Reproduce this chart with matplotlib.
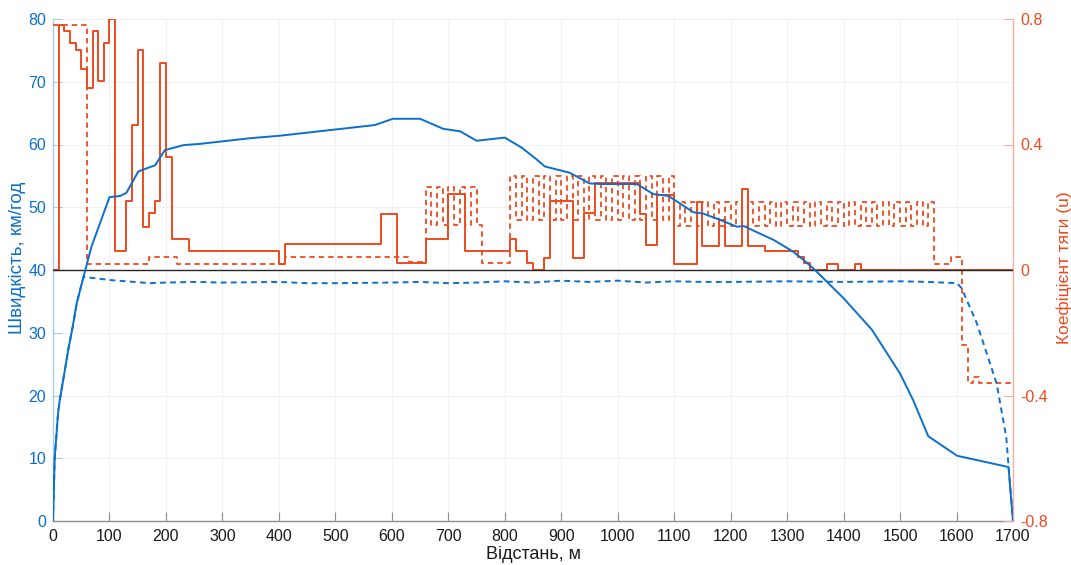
import numpy as np
import matplotlib
matplotlib.use('Agg')
import matplotlib.pyplot as plt
from matplotlib.ticker import FuncFormatter

plt.rcParams['font.family'] = ['Liberation Sans', 'DejaVu Sans']
plt.rcParams['axes.unicode_minus'] = False

# ---------------- data ----------------
# speed, solid line (km/h) vs distance (m)
speed_dist = [0, 3, 9, 12, 20, 27, 35, 42, 54, 68, 100, 119, 130, 151, 181, 198, 231, 260,
              349, 402, 570, 602, 650, 691, 721, 750, 800, 830, 854, 871, 915, 950, 969,
              1034, 1063, 1090, 1134, 1151, 1181, 1211, 1223, 1276, 1311, 1329, 1346, 1364,
              1400, 1450, 1500, 1523, 1550, 1601, 1692, 1700]
speed_kmh = [0, 10, 17.2, 19.3, 23.5, 27.3, 31, 34.7, 38.9, 43.7, 51.6, 51.8, 52.3, 55.7,
             56.7, 59.1, 59.9, 60.1, 61.0, 61.4, 63.1, 64.1, 64.1, 62.5, 62.1, 60.6, 61.1,
             59.5, 57.8, 56.5, 55.5, 53.8, 53.7, 53.7, 52.1, 51.8, 49.2, 49.0, 48.0, 46.9,
             47.0, 44.8, 42.9, 41.6, 40.3, 38.7, 35.5, 30.5, 23.5, 19.3, 13.5, 10.4, 8.6, 0]

# speed, dashed line (km/h)
speed2_dist = [0, 3, 9, 12, 20, 27, 35, 42, 54, 101, 172, 200, 250, 300, 400, 450, 500, 600,
               650, 700, 750, 800, 850, 900, 950, 1000, 1050, 1100, 1150, 1200, 1300, 1400,
               1500, 1550, 1601, 1609, 1636, 1671, 1688, 1700]
speed2_kmh = [0, 10, 17.2, 19.3, 23.5, 27.3, 31, 34.7, 38.9, 38.4, 37.9, 38.0, 38.1, 38.0,
              38.1, 37.9, 37.9, 38.0, 38.1, 37.9, 38.0, 38.2, 38.0, 38.3, 38.1, 38.3, 38.0,
              38.2, 38.1, 38.1, 38.2, 38.1, 38.2, 38.1, 37.9, 37.1, 31.5, 21.9, 13.4, 0]

# traction coefficient, solid step line: start of each step (m) and value
u_solid_start = [0, 10, 20, 30, 40, 50, 60, 70, 80, 90, 100, 110, 130, 140, 150, 160, 170,
                 180, 190, 200, 210, 240, 400, 410, 580, 610, 660, 700, 730, 810, 820, 840,
                 850, 870, 880, 920, 940, 960, 1040, 1050, 1070, 1100, 1140, 1150, 1180, 1190,
                 1220, 1230, 1260, 1320, 1330, 1340, 1370, 1390, 1420, 1430]
u_solid_val = [0, 0.78, 0.762, 0.722, 0.701, 0.64, 0.581, 0.762, 0.602, 0.722, 0.80, 0.062,
               0.22, 0.462, 0.701, 0.138, 0.181, 0.22, 0.661, 0.361, 0.099, 0.062, 0.02,
               0.083, 0.18, 0.021, 0.099, 0.242, 0.06, 0.099, 0.06, 0.021, 0.0, 0.037, 0.22,
               0.037, 0.181, 0.276, 0.18, 0.079, 0.24, 0.02, 0.218, 0.078, 0.16, 0.078, 0.258,
               0.078, 0.06, 0.043, 0.021, 0.0, 0.019, 0.0, 0.019, 0.0]

# traction coefficient, dashed step line: one value per 10 m interval (0..1700 m)
u_dashed_10m = [
    0.78, 0.78, 0.78, 0.78, 0.78, 0.78, 0.019, 0.019, 0.019, 0.019,          # 0-90
    0.019, 0.019, 0.019, 0.019, 0.019, 0.019, 0.019, 0.04, 0.04, 0.04,       # 100-190
    0.04, 0.04, 0.019, 0.019, 0.019, 0.019, 0.019, 0.019, 0.019, 0.019,      # 200-290
    0.019, 0.019, 0.019, 0.019, 0.019, 0.019, 0.019, 0.019, 0.019, 0.019,    # 300-390
    0.019, 0.04, 0.04, 0.04, 0.04, 0.04, 0.04, 0.04, 0.04, 0.04,             # 400-490
    0.04, 0.04, 0.04, 0.04, 0.04, 0.04, 0.04, 0.04, 0.04, 0.04,              # 500-590
    0.04, 0.04, 0.04, 0.025, 0.025, 0.025, 0.265, 0.143, 0.265, 0.143,       # 600-690
    0.265, 0.143, 0.265, 0.143, 0.265, 0.143, 0.021, 0.021, 0.021, 0.021,    # 700-790
    0.021, 0.30, 0.16, 0.30, 0.16, 0.30, 0.16, 0.30, 0.16, 0.30,             # 800-890
    0.16, 0.30, 0.16, 0.30, 0.16, 0.30, 0.16, 0.30, 0.16, 0.30,              # 900-990
    0.16, 0.30, 0.16, 0.30, 0.16, 0.30, 0.16, 0.30, 0.16, 0.30,              # 1000-1090
    0.14, 0.218, 0.14, 0.218, 0.14, 0.218, 0.14, 0.218, 0.14, 0.218,         # 1100-1190
    0.14, 0.218, 0.14, 0.218, 0.14, 0.218, 0.14, 0.218, 0.14, 0.218,         # 1200-1290
    0.14, 0.218, 0.14, 0.218, 0.14, 0.218, 0.14, 0.218, 0.14, 0.218,         # 1300-1390
    0.14, 0.218, 0.14, 0.218, 0.14, 0.218, 0.14, 0.218, 0.14, 0.218,         # 1400-1490
    0.14, 0.218, 0.14, 0.218, 0.14, 0.218, 0.019, 0.019, 0.019, 0.04,        # 1500-1590
    0.04, -0.24, -0.361, -0.34, -0.361, -0.361, -0.361, -0.361, -0.361, -0.361,  # 1600-1690
]
u_step_m = 10

x_ticks = list(range(0, 1701, 100))
speed_ticks = list(range(0, 81, 10))
u_ticks = [-0.8, -0.4, 0, 0.4, 0.8]

x_label = 'Відстань, м'
speed_label = 'Швидкість, км/год'
u_label = 'Коефіцієнт тяги (u)'

# ---------------- style ----------------
BLUE = '#0B6FCC'
RED = '#EE4A1E'
BLUE_SPINE = '#A9CBEA'
RED_SPINE = '#F5B09C'
GRID = '#EDF2F7'
FS = 11.5

fig = plt.figure(figsize=(10.71, 5.65), dpi=100)
ax = fig.add_axes([53 / 1071, 1 - 521 / 565, 960 / 1071, 502 / 565])
ax2 = ax.twinx()

ax.set_xlim(0, 1700)
ax.set_ylim(0, 80)
ax2.set_ylim(-0.8, 0.8)

# red series (coefficient axis)
sx = list(u_solid_start) + [x_ticks[-1]]
sy = list(u_solid_val) + [u_solid_val[-1]]
ax2.plot(sx, sy, drawstyle='steps-post', color=RED, lw=1.4, zorder=3)

dx = np.arange(len(u_dashed_10m) + 1) * u_step_m
dy = list(u_dashed_10m) + [u_dashed_10m[-1]]
ax2.plot(dx, dy, drawstyle='steps-post', color=RED, lw=1.3,
         linestyle=(0, (3, 2.2)), zorder=3)
ax2.axhline(0, color='#262626', lw=1.0, zorder=4)

# blue series (speed axis), drawn in the upper axes with the speed-axis transform
ax2.plot(speed_dist, speed_kmh, color=BLUE, lw=1.4, zorder=5, transform=ax.transData)
ax2.plot(speed2_dist, speed2_kmh, color=BLUE, lw=1.4, linestyle=(0, (3, 2.2)), zorder=5,
         transform=ax.transData)

ax.set_xlim(0, 1700)
ax.set_ylim(0, 80)
ax2.set_ylim(-0.8, 0.8)

ax.set_xticks(x_ticks)
ax.set_yticks(speed_ticks)
ax2.set_yticks(u_ticks)
ax2.yaxis.set_major_formatter(FuncFormatter(lambda v, p: '%g' % v))

ax.grid(True, color=GRID, lw=0.8, zorder=0)
ax.set_axisbelow(True)

for a in (ax, ax2):
    a.spines['top'].set_visible(False)
ax.spines['right'].set_visible(False)
ax2.spines['left'].set_visible(False)
ax2.spines['bottom'].set_visible(False)
ax.spines['left'].set_color(BLUE_SPINE)
ax.spines['bottom'].set_color('#8E8E8E')
ax2.spines['right'].set_color(RED_SPINE)
for s in ('left', 'bottom'):
    ax.spines[s].set_linewidth(1.0)
ax2.spines['right'].set_linewidth(1.0)

ax.tick_params(axis='x', direction='in', length=6.5, width=0.8, color='#8E8E8E',
               labelsize=FS, labelcolor='#1a1a1a', pad=6)
ax.tick_params(axis='y', direction='in', length=6.5, width=0.8, color=BLUE_SPINE,
               labelsize=FS, labelcolor=BLUE, pad=5)
ax2.tick_params(axis='y', direction='in', length=6.5, width=0.8, color=RED_SPINE,
                labelsize=FS, labelcolor=RED, pad=5)

fig.text(18 / 1071, 1 - 258 / 565, speed_label, rotation=90, ha='center', va='center',
         color=BLUE, fontsize=13.5)
fig.text(1064 / 1071, 1 - 268 / 565, u_label, rotation=90, ha='center', va='center',
         color=RED, fontsize=12.5)
fig.text(533 / 1071, 1 - 546 / 565, x_label, ha='center', va='top',
         color='#1a1a1a', fontsize=13)

fig.savefig('out.png', dpi=100)
